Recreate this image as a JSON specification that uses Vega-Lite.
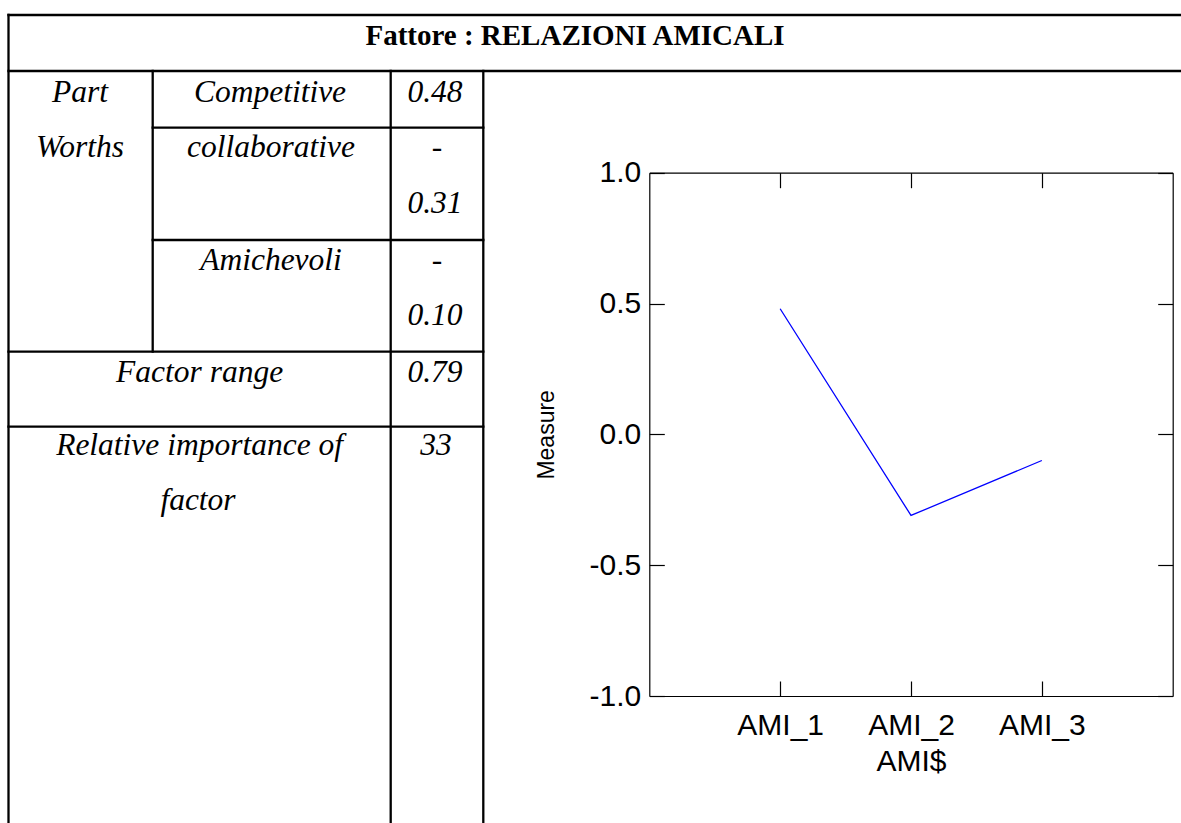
{
  "$schema": "https://vega.github.io/schema/vega-lite/v6.json",
  "width": 1181,
  "height": 823,
  "padding": 0,
  "autosize": {"type": "none"},
  "background": "white",
  "config": {"view": {"stroke": null}},
  "datasets": {
    "grid": [
      {"x1": 8.5, "x2": 1181, "y1": 15, "y2": 15},
      {"x1": 8.5, "x2": 1181, "y1": 71, "y2": 71},
      {"x1": 152.7, "x2": 483.3, "y1": 127.7, "y2": 127.7},
      {"x1": 152.7, "x2": 483.3, "y1": 240, "y2": 240},
      {"x1": 8.5, "x2": 483.3, "y1": 351.7, "y2": 351.7},
      {"x1": 8.5, "x2": 483.3, "y1": 426.7, "y2": 426.7},
      {"x1": 8.5, "x2": 8.5, "y1": 15, "y2": 823},
      {"x1": 152.7, "x2": 152.7, "y1": 71, "y2": 351.7},
      {"x1": 390.7, "x2": 390.7, "y1": 71, "y2": 823},
      {"x1": 483.3, "x2": 483.3, "y1": 71, "y2": 823}
    ],
    "cells": [
      {"text": "Part", "x": 80, "y": 101.5},
      {"text": "Worths", "x": 80, "y": 157},
      {"text": "Competitive", "x": 270, "y": 101.5},
      {"text": "collaborative", "x": 271, "y": 157},
      {"text": "Amichevoli", "x": 271, "y": 270},
      {"text": "0.48", "x": 435, "y": 101.5},
      {"text": "-", "x": 437, "y": 157},
      {"text": "0.31", "x": 435, "y": 213},
      {"text": "-", "x": 437, "y": 270},
      {"text": "0.10", "x": 435, "y": 325},
      {"text": "Factor range", "x": 199.6, "y": 382},
      {"text": "0.79", "x": 435, "y": 382},
      {"text": "Relative importance of", "x": 199.6, "y": 455},
      {"text": "33", "x": 436, "y": 455},
      {"text": "factor", "x": 198, "y": 510}
    ],
    "heading": [
      {"text": "Fattore : RELAZIONI AMICALI", "x": 575, "y": 45}
    ],
    "partworths": [
      {"level": "AMI_1", "value": 0.48},
      {"level": "AMI_2", "value": -0.31},
      {"level": "AMI_3", "value": -0.10}
    ]
  },
  "layer": [
    {
      "layer": [
        {
          "data": {"name": "grid"},
          "mark": {"type": "rule", "stroke": "black", "strokeWidth": 2.3, "strokeCap": "square"},
          "encoding": {
            "x": {"field": "x1", "type": "quantitative", "scale": {"domain": [0, 1181], "nice": false, "zero": false}, "axis": null},
            "x2": {"field": "x2"},
            "y": {"field": "y1", "type": "quantitative", "scale": {"domain": [0, 823], "reverse": true, "nice": false, "zero": false}, "axis": null},
            "y2": {"field": "y2"}
          }
        },
        {
          "data": {"name": "cells"},
          "mark": {"type": "text", "font": "Liberation Serif", "fontStyle": "italic", "fontSize": 31.5, "align": "center", "baseline": "alphabetic", "color": "black"},
          "encoding": {
            "x": {"field": "x", "type": "quantitative"},
            "y": {"field": "y", "type": "quantitative"},
            "text": {"field": "text"}
          }
        },
        {
          "data": {"name": "heading"},
          "mark": {"type": "text", "font": "Liberation Serif", "fontWeight": "bold", "fontSize": 29, "align": "center", "baseline": "alphabetic", "color": "black"},
          "encoding": {
            "x": {"field": "x", "type": "quantitative"},
            "y": {"field": "y", "type": "quantitative"},
            "text": {"field": "text"}
          }
        }
      ]
    },
    {
      "data": {"name": "partworths"},
      "layer": [
        {
          "mark": {"type": "line", "color": "#0000ff", "strokeWidth": 1.3},
          "encoding": {
            "x": {
              "field": "level", "type": "ordinal",
              "scale": {"type": "point", "domain": ["AMI_1", "AMI_2", "AMI_3"], "range": [649.3, 1172.7], "padding": 1},
              "axis": {
                "orient": "bottom", "offset": -127, "title": "AMI$", "labelAngle": 0,
                "domainColor": "black", "domainWidth": 1.2, "tickColor": "black", "tickWidth": 1.2, "tickSize": -15,
                "labelPadding": 29.6, "labelFont": "Liberation Sans", "labelFontSize": 30, "labelColor": "black",
                "titleFont": "Liberation Sans", "titleFontSize": 30, "titleFontWeight": "normal", "titleColor": "black", "titlePadding": 6,
                "grid": false
              }
            },
            "y": {
              "field": "value", "type": "quantitative",
              "scale": {"domain": [-1, 1], "range": [696, 172.7], "nice": false, "zero": false},
              "axis": {
                "orient": "left", "offset": -649.3, "values": [-1, -0.5, 0, 0.5, 1], "format": ".1f",
                "labelExpr": "replace(datum.label, '\u2212', '-')", "title": "Measure",
                "domainColor": "black", "domainWidth": 1.2, "tickColor": "black", "tickWidth": 1.2, "tickSize": -15,
                "labelPadding": 23.5, "labelFont": "Liberation Sans", "labelFontSize": 30, "labelColor": "black",
                "titleFont": "Liberation Sans", "titleFontSize": 23, "titleFontWeight": "normal", "titleColor": "black", "titlePadding": 31,
                "grid": false
              }
            }
          }
        },
        {
          "mark": {"type": "line", "color": "#0000ff", "strokeWidth": 1.3, "opacity": 0},
          "encoding": {
            "x": {
              "field": "level", "type": "ordinal",
              "axis": {
                "orient": "top", "offset": -172.7, "title": null, "labels": false,
                "domainColor": "black", "domainWidth": 1.2, "tickColor": "black", "tickWidth": 1.2, "tickSize": -15, "grid": false
              }
            },
            "y": {
              "field": "value", "type": "quantitative",
              "axis": {
                "orient": "right", "offset": -8.3, "values": [-1, -0.5, 0, 0.5, 1], "title": null, "labels": false,
                "domainColor": "black", "domainWidth": 1.2, "tickColor": "black", "tickWidth": 1.2, "tickSize": -15, "grid": false
              }
            }
          }
        }
      ],
      "resolve": {"axis": {"x": "independent", "y": "independent"}}
    }
  ],
  "resolve": {"scale": {"x": "independent", "y": "independent"}}
}
